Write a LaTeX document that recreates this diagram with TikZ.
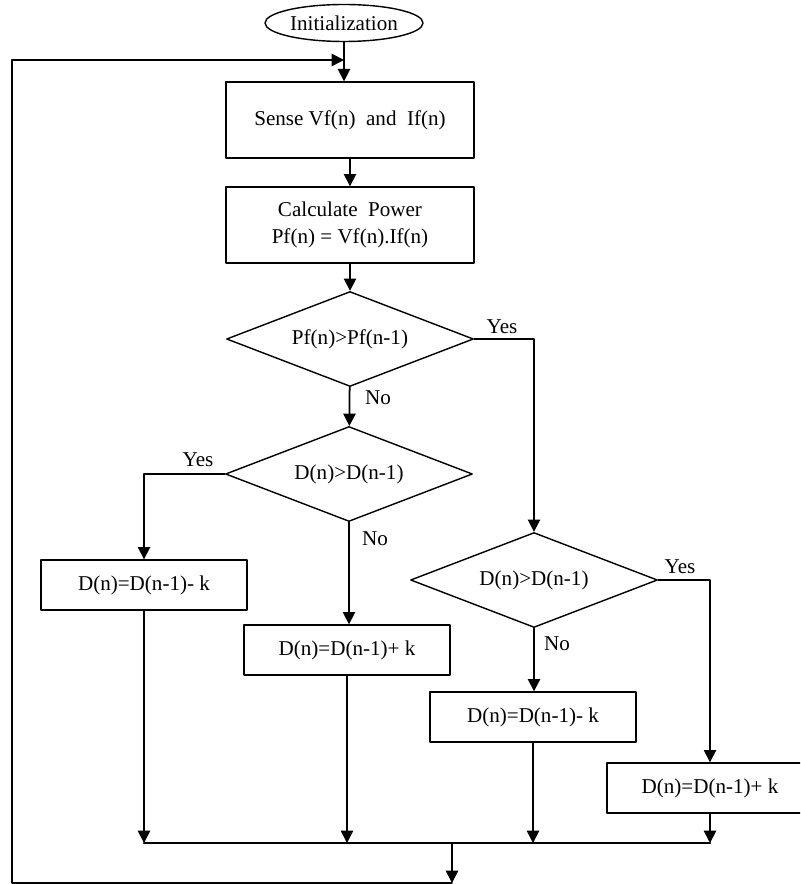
\documentclass[tikz,border=0pt]{standalone}
\usepackage{fontspec}
\setmainfont{Liberation Serif}
\usetikzlibrary{shapes.geometric,arrows.meta}
\begin{document}
\begin{tikzpicture}[>={Stealth[inset=0pt,length=7pt,width=7pt]},line join=round,line cap=round,x=0.02cm,y=-0.02cm,font=\fontsize{12}{15}\selectfont,
	blk/.style={draw,line width=0.8pt,minimum width=4.12cm,minimum height=1cm,inner sep=2pt},
	bigblk/.style={blk,minimum width=4.96cm,minimum height=1.52cm,align=center},
	dec/.style={draw,diamond,line width=0.8pt,aspect=2.6,minimum width=4.94cm,minimum height=1.9cm,inner sep=1pt},
	lbl/.style={inner sep=0pt},
	wire/.style={line width=1pt}]
	\def \xmin{0}\def \xmax{800}\def \ymin{0}\def \ymax{884}
	\clip (\xmin,\ymin) rectangle (\xmax,\ymax);
	\node[draw,ellipse,line width=0.8pt,minimum width=3.16cm,minimum height=0.74cm,inner sep=0pt] (init) at (344,23) {Initialization};
	\node[bigblk] (sense) at (350,120) {Sense Vf(n)\ \ and\ \ If(n)};
	\node[bigblk] (calc) at (350,225) {Calculate\ \ Power\\Pf(n) = Vf(n).If(n)};
	\node[dec] (d1) at (350,339) {Pf(n)>Pf(n-1)};
	\node[dec] (d2) at (349,474) {D(n)>D(n-1)};
	\node[dec] (d3) at (534,580) {D(n)>D(n-1)};
	\node[blk] (b1) at (144,585) {D(n)=D(n-1)- k};
	\node[blk] (b2) at (347,650) {D(n)=D(n-1)+ k};
	\node[blk] (b3) at (533,717) {D(n)=D(n-1)- k};
	\node[blk] (b4) at (710,788) {D(n)=D(n-1)+ k};
	% branch labels
	\node[lbl] (y1) at (502,327) {Yes};
	\node[lbl] (n1) at (378,398) {No};
	\node[lbl] (y2) at (198,460) {Yes};
	\node[lbl] (n2) at (375,539) {No};
	\node[lbl] (y3) at (680,567) {Yes};
	\node[lbl] (n3) at (557,644) {No};
	\coordinate (jn) at (452,843); \coordinate (rt) at (452,883); \coordinate (lp) at (12,60);
	\draw[wire,->] (init) -- (init |- sense.north);
	\draw[wire,->] (sense) -- (calc);
	\draw[wire,->] (calc) -- (d1);
	\draw[wire,->] (d1) -- (d2);
	\draw[wire,->] (d1.east) -| (d3.north);
	\draw[wire,->] (d2.west) -| (b1.north);
	\draw[wire,->] (d2.south) -- (d2.south |- b2.north);
	\draw[wire,->] (d3.east) -| (b4.north);
	\draw[wire,->] (d3.south) -- (d3.south |- b3.north);
	\foreach \b in {b1,b2,b3,b4} \draw[wire,->] (\b) -- (\b |- jn);
	\draw[line width=1.4pt] (b1 |- jn) -- (b4 |- jn);
	\draw[wire,->] (jn) -- (rt);
	\draw[wire,->] (rt) -- (lp |- rt) -- (lp) -- (init |- lp);
\end{tikzpicture}
\end{document}
